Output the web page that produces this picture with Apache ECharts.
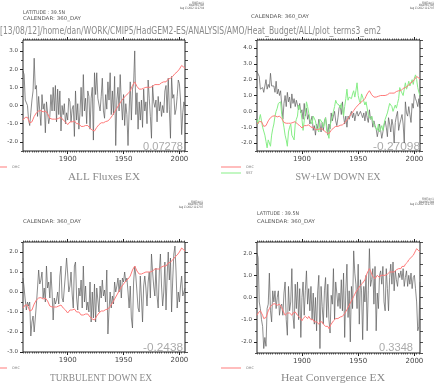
<!DOCTYPE html>
<html><head><meta charset="utf-8">
<script src="https://cdn.jsdelivr.net/npm/echarts@6/dist/echarts.min.js"></script>
<style>html,body{margin:0;padding:0;background:#fff}#c{width:436px;height:384px}</style>
</head><body><div id="c"></div>
<script>
// ---------------- DATA (annual, 1860-2005) ----------------
const startYear = 1860;
const ohc = [
-0.8,-0.7,-0.65,-0.6,-0.65,-0.8,-0.95,-1.0,-0.9,-0.75,
-0.6,-0.5,-0.4,-0.35,-0.3,-0.3,-0.28,-0.3,-0.35,-0.3,
-0.3,-0.35,-0.45,-0.5,-0.7,-0.8,-0.75,-0.7,-0.75,-0.7,
-0.75,-0.8,-0.7,-0.72,-0.65,-0.7,-0.8,-0.85,-0.9,-0.95,
-1.05,-0.95,-0.9,-0.85,-0.9,-0.95,-0.85,-0.9,-1.0,-1.05,
-1.0,-1.1,-1.15,-1.1,-1.15,-1.2,-1.1,-1.15,-1.1,-1.2,
-1.25,-1.3,-1.35,-1.3,-1.4,-1.35,-1.2,-1.15,-1.05,-1.0,
-0.95,-0.9,-0.95,-0.9,-0.88,-0.85,-0.85,-0.8,-0.72,-0.65,
-0.55,-0.45,-0.35,-0.25,-0.15,-0.05,0.05,0.15,0.25,0.3,
0.4,0.45,0.55,0.6,0.65,0.7,0.8,0.95,1.1,1.2,
1.3,1.2,1.05,0.95,0.9,0.85,0.9,1.0,0.95,0.9,
1.0,1.05,1.0,1.05,1.0,0.95,1.05,1.1,1.15,1.1,
1.15,1.2,1.15,1.2,1.25,1.2,1.3,1.35,1.3,1.4,
1.45,1.4,1.5,1.55,1.6,1.7,1.75,1.8,1.85,1.9,
2.0,2.1,2.2,2.15,2.1,2.05];
const allFluxes = [
1.9,1.7,0.3,0.2,0.0,-0.8,-1.1,-0.4,0.3,0.8,
2.6,0.9,1.1,-0.6,0.5,-0.3,-1.1,0.6,-0.2,0.1,
-1.5,0.2,0.3,-1.0,-0.6,0.6,-0.3,1.0,-0.3,1.1,
-0.9,0.9,-0.5,0.8,-1.4,0.0,-0.5,0.1,-1.0,-0.4,
-0.8,0.4,0.2,-0.9,-0.2,0.0,-1.7,0.8,-0.8,0.1,
-1.3,-0.4,1.0,-0.6,1.7,-0.3,0.4,-1.0,0.8,0.5,
-1.3,0.4,1.0,-1.9,1.8,0.6,1.8,0.4,0.3,-0.3,
0.5,1.5,-0.3,-0.7,0.6,-0.2,1.3,0.3,1.8,-0.5,
0.8,-0.5,1.6,-2.2,0.3,1.0,-0.3,1.7,0.2,-0.8,
0.6,-1.1,0.1,-0.5,-2.2,-0.3,1.3,-0.8,0.9,1.2,
3.0,-0.5,0.7,-1.3,0.2,-0.8,0.3,-1.2,0.9,-0.3,
0.2,-1.0,1.4,0.4,-0.6,-1.8,1.1,0.2,-0.1,0.3,
-0.9,0.5,-0.3,0.2,-0.6,0.0,-0.4,0.8,1.1,-0.4,
1.5,-0.2,-1.8,1.6,0.4,0.6,-0.5,-0.2,0.5,1.4,
1.2,0.3,-1.6,-0.4,0.2,0.0];
const swlwDown = [
2.5,2.6,2.2,1.4,1.3,1.5,1.2,1.6,2.0,1.4,
1.7,1.5,2.4,1.6,1.5,1.6,1.2,1.9,1.1,1.4,
1.0,1.3,1.2,-0.5,0.5,1.0,0.3,1.2,0.6,0.9,
0.2,1.1,0.5,0.8,0.3,0.7,0.4,0.1,0.5,-0.1,
0.1,-0.5,0.5,-0.3,0.2,-0.5,-0.2,-0.8,-0.6,-0.3,
-1.2,-0.9,-1.5,-0.8,-1.1,-0.5,-0.8,-1.3,-0.7,-1.2,
-0.6,-0.4,-0.9,-1.5,-0.8,-1.1,-0.1,-0.6,-0.3,0.0,
-0.6,-0.9,-0.4,0.2,0.4,-0.2,0.6,-0.3,-0.8,-0.3,
-1.0,-0.3,-0.5,-0.2,0.0,-0.4,-0.1,-0.6,-0.2,0.0,
-0.3,-0.4,0.0,-0.2,-0.4,-0.1,-0.6,0.0,-0.4,-0.7,
0.1,-0.5,-0.3,-1.0,-0.6,-0.9,-1.1,-1.6,-1.2,-0.8,
-1.2,-1.7,-1.3,-0.9,-0.6,-1.0,-1.6,-0.4,-0.8,-1.3,
-0.5,-0.9,-2.0,-0.7,-0.3,0.0,-1.2,-0.8,-0.5,-0.2,
-0.8,-2.0,0.6,-0.1,-0.3,0.3,-0.2,-0.7,0.5,0.2,
1.1,0.8,0.6,0.3,0.8,0.2];
const sst = [
-0.5,-0.8,-0.8,-0.2,-0.6,-1.0,-1.0,-1.5,-1.9,-2.3,
-1.8,-2.0,-2.2,-1.5,-1.1,-0.8,-0.3,0.0,0.2,0.5,
0.4,0.6,-0.2,-0.6,-1.0,-1.5,-1.8,-2.2,-1.3,-1.0,
-0.8,-1.5,-1.6,-1.8,-0.8,-0.5,-0.3,0.4,0.5,0.0,
-0.5,-1.2,-0.6,-0.2,0.6,0.3,0.2,-0.5,-0.6,-0.8,
-0.3,-0.4,-0.6,-1.0,-1.1,-1.3,-0.5,-0.6,-0.7,-1.0,
-0.7,-0.4,-1.2,-1.4,-1.7,-0.9,-0.6,-0.3,0.0,0.3,
0.7,0.5,0.6,0.4,0.2,0.5,0.1,-0.3,0.3,0.8,
1.4,0.7,0.9,1.0,0.8,1.1,1.3,0.9,1.3,1.8,
1.0,0.7,0.5,1.1,0.9,0.8,0.4,0.6,0.5,-0.2,
-0.3,-0.5,-0.3,-0.6,-0.8,-1.0,-1.1,-1.2,-0.8,-1.3,
-1.1,-0.9,-1.2,-0.8,-0.5,-0.3,-0.1,0.2,0.5,0.4,
0.3,0.0,0.2,0.4,0.2,0.5,0.8,1.5,1.3,1.2,
1.0,1.4,1.8,1.4,1.6,1.9,1.6,1.8,2.0,1.7,
2.1,2.3,2.0,1.5,1.2,1.0];
const turbulentDown = [
0.7,0.2,-0.4,-0.9,-0.5,-0.7,-0.5,-2.2,-1.5,-1.2,
-2.0,-1.9,-0.6,0.2,1.1,0.4,0.6,1.0,-0.3,0.2,
-0.5,1.3,0.2,0.5,-0.3,1.0,0.0,-1.4,-0.3,-0.6,
-0.4,0.0,-0.6,0.8,1.3,-0.3,-0.5,0.2,0.9,1.7,
0.9,0.0,0.3,1.0,-0.1,-0.8,1.3,1.5,-0.3,-0.9,
0.2,-0.2,0.6,-0.8,1.3,-0.5,0.3,-0.9,-0.5,-1.0,
0.5,-1.5,0.0,-1.3,0.4,-1.5,0.2,0.3,-1.0,0.3,
-0.3,0.6,-0.2,0.1,-0.5,1.1,-2.1,-0.9,0.0,-0.8,
-0.2,-0.6,0.5,0.0,0.3,0.7,0.0,0.6,-0.3,0.7,
0.5,1.0,0.5,0.7,0.0,-0.8,0.3,-1.3,-1.8,0.5,
1.3,0.8,0.0,-0.8,-1.0,0.8,-0.3,-1.5,0.3,0.8,
0.2,-0.7,0.5,1.0,-0.3,1.9,1.0,0.3,-0.2,1.2,
-0.2,-0.8,1.0,1.9,0.3,-0.7,0.0,1.5,-0.9,0.8,
2.0,0.6,1.7,-1.0,0.6,1.9,2.3,1.0,-0.8,0.0,
-0.5,0.3,0.8,-0.2,-0.3,0.2];
const heatConvergence = [
2.0,1.8,-0.2,-0.5,-1.0,-1.3,-2.3,-1.8,-2.2,-0.5,
-0.3,1.1,-0.6,-1.1,0.3,-0.2,0.3,-0.5,0.0,0.3,
-0.8,-0.4,-0.3,-0.8,0.2,0.7,-1.0,-1.7,0.5,-0.6,
-0.2,1.3,-0.8,-1.4,0.6,-0.5,0.7,-1.0,0.4,-1.8,
0.0,0.7,-0.8,0.3,1.2,-0.3,0.4,-0.6,0.5,-1.0,
0.2,-1.2,0.0,-1.5,0.3,1.0,-2.3,0.5,-0.4,-1.2,
0.3,0.9,-0.9,0.6,-1.0,-1.6,0.1,-0.3,1.3,-1.0,
0.7,0.2,-0.4,0.2,-0.5,0.8,-0.6,1.1,-1.8,0.3,
1.5,-0.9,0.3,-2.0,0.5,-0.5,2.1,1.1,0.6,-0.5,
1.5,-1.2,0.8,0.3,-1.9,0.5,-0.2,1.0,-1.5,0.3,
2.2,0.5,0.8,1.3,-0.3,1.4,-1.5,0.2,-0.5,1.0,
1.2,0.6,1.4,-0.2,-0.6,1.3,0.4,-0.6,0.9,1.5,
0.6,1.6,0.3,1.2,0.8,0.5,1.1,0.9,1.2,0.8,
1.3,0.5,0.9,1.2,0.5,1.0,0.6,1.1,0.4,0.9,
1.0,0.4,-0.2,-1.5,-1.3,0.7];
const xTickYears = [1900, 1950, 2000];
const yTicksP1 = [-2, -1, 0, 1, 2, 3];
const yTicksP2 = [-2, -1, 0, 1, 2, 3, 4];
const yTicksP3 = [-3, -2, -1, 0, 1, 2];
const yTicksP4 = [-2, -1, 0, 1, 2];
const titles = ['ALL Fluxes EX', 'SW+LW DOWN EX', 'TURBULENT DOWN EX', 'Heat Convergence EX'];
const correlations = ['0.07278', '-0.27098', '-0.2438', '0.3348'];
const pathText = '[13/08/12]/home/dan/WORK/CMIP5/HadGEM2-ES/ANALYSIS/AMO/Heat_Budget/ALL/plot_terms3_em2';
const latText = 'LATITUDE : 39.5N';
const calText = 'CALENDAR: 360_DAY';
const stampLines = [['FERRET Ver. 6.1', 'NOAA/PMEL TMAP', 'Aug 13 2012 11:27:04'],
                    ['FERRET Ver. 6.1', 'NOAA/PMEL TMAP', 'Aug 13 2012 11:27:07'],
                    ['FERRET Ver. 6.1', 'NOAA/PMEL TMAP', 'Aug 13 2012 11:27:07'],
                    ['FERRET Ver. 6.1', 'NOAA/PMEL TMAP', 'Aug 13 2012 11:27:07']];

// ---------------- STYLE / LAYOUT ----------------
const BLACK = '#5a5a5a', RED = '#ff7a7a', GREEN = '#86ee86';
const years = ohc.map((_, k) => startYear + k);
const xMin = 1860, xMax = 2005;
const pairs = a => years.map((y, k) => [y, a[k]]);
const minorYears = [];
for (let y = 1860; y <= 2004; y += 2) minorYears.push(y);
const halfSteps = (lo, hi) => { const r = []; for (let v = Math.ceil(lo * 2) / 2; v <= hi + 1e-9; v += 0.5) r.push(+v.toFixed(1)); return r; };

const panels = [
  {box: [23, 40, 162, 111], y: [-2.5, 3.6], ticks: yTicksP1,
   lines: [['ALL Fluxes', allFluxes, BLACK], ['OHC', ohc, RED]]},
  {box: [257, 40, 163, 111], y: [-2.5, 4.5], ticks: yTicksP2,
   lines: [['SW+LW DOWN', swlwDown, BLACK], ['SST', sst, GREEN], ['OHC', ohc, RED]]},
  {box: [23, 242, 162, 110], y: [-3, 2.5], ticks: yTicksP3,
   lines: [['TURBULENT DOWN', turbulentDown, BLACK], ['OHC', ohc, RED]]},
  {box: [257, 242, 163, 111], y: [-2.5, 2.5], ticks: yTicksP4,
   lines: [['Heat Convergence', heatConvergence, BLACK], ['OHC', ohc, RED]]}
];

const grid = [], xAxis = [], yAxis = [], series = [];
const AX = '#222';
const noLine = {show: false, onZero: false};
panels.forEach((p, i) => {
  const [l, t, w, h] = p.box;
  grid.push({left: l, top: t, width: w, height: h, show: true, borderColor: AX, borderWidth: 1, backgroundColor: 'transparent', containLabel: false});
  const xBase = {gridIndex: i, type: 'value', min: xMin, max: xMax, axisLine: noLine, splitLine: {show: false}};
  xAxis.push(Object.assign({}, xBase, {position: 'bottom',
    axisTick: {show: true, customValues: xTickYears, length: 3, lineStyle: {color: AX, width: 1}},
    axisLabel: {show: true, customValues: xTickYears, fontSize: 7, color: '#444', margin: 5, fontFamily: 'DejaVu Sans',
      formatter: v => String(Math.round(v))}}));
  xAxis.push(Object.assign({}, xBase, {position: 'bottom',
    axisTick: {show: true, customValues: minorYears, length: 1.5, lineStyle: {color: AX, width: 0.7}}, axisLabel: {show: false}}));
  xAxis.push(Object.assign({}, xBase, {position: 'top',
    axisTick: {show: true, customValues: xTickYears, length: 3, lineStyle: {color: AX, width: 1}}, axisLabel: {show: false}}));
  xAxis.push(Object.assign({}, xBase, {position: 'top',
    axisTick: {show: true, customValues: minorYears, length: 1.5, lineStyle: {color: AX, width: 0.7}}, axisLabel: {show: false}}));
  const yBase = {gridIndex: i, type: 'value', min: p.y[0], max: p.y[1], axisLine: noLine, splitLine: {show: false}};
  yAxis.push(Object.assign({}, yBase, {position: 'left',
    axisTick: {show: true, customValues: p.ticks, length: 3, lineStyle: {color: AX, width: 1}},
    axisLabel: {show: true, customValues: p.ticks, fontSize: 5.5, color: '#444', margin: 5, fontFamily: 'DejaVu Sans',
      formatter: v => v.toFixed(1)}}));
  yAxis.push(Object.assign({}, yBase, {position: 'left',
    axisTick: {show: true, customValues: halfSteps(p.y[0], p.y[1]), length: 2, lineStyle: {color: AX, width: 0.8}}, axisLabel: {show: false}}));
  yAxis.push(Object.assign({}, yBase, {position: 'right',
    axisTick: {show: true, customValues: halfSteps(p.y[0], p.y[1]), length: 3, lineStyle: {color: AX, width: 0.8}}, axisLabel: {show: false}}));
  p.lines.forEach(([name, arr, color]) => {
    series.push({name, type: 'line', xAxisIndex: i * 4, yAxisIndex: i * 3, data: pairs(arr),
      showSymbol: false, symbol: 'none', animation: false, silent: true,
      lineStyle: {color, width: color === BLACK ? 0.7 : 1}, itemStyle: {color}});
  });
});

// text helpers
const mctx = document.createElement('canvas').getContext('2d');
function fitText(text, font, x, y, targetW, fill, align) {
  mctx.font = font;
  const w = mctx.measureText(text).width || 1;
  const sx = targetW / w;
  let left = x;
  if (align === 'center') left = x - targetW / 2;
  if (align === 'right') left = x - targetW;
  return {type: 'text', x: left, y: y, scaleX: sx, scaleY: 1, silent: true,
    style: {text: text, font: font, fill: fill, align: 'left', verticalAlign: 'middle'}};
}
const SANS = '"DejaVu Sans"';
const graphics = [];
graphics.push(fitText(pathText, '10px ' + SANS, 0, 31, 381, '#8a8a8a', 'left'));
graphics.push(fitText(latText, '5px ' + SANS, 23, 12.5, 42, '#555', 'left'));
graphics.push(fitText(calText, '5px ' + SANS, 23, 18.5, 58, '#555', 'left'));
graphics.push(fitText(calText, '5px ' + SANS, 251, 17, 58, '#555', 'left'));
graphics.push(fitText(calText, '5px ' + SANS, 23, 221.5, 58, '#555', 'left'));
graphics.push(fitText(latText, '5px ' + SANS, 257, 214, 42, '#555', 'left'));
graphics.push(fitText(calText, '5px ' + SANS, 257, 221.5, 58, '#555', 'left'));
const stampPos = [[204, 3], [434, 3], [203, 202], [434, 199.5]];
stampPos.forEach(([rx, ty], i) => {
  stampLines[i].forEach((s, k) => {
    const ws = [12, 15, 24][k];
    graphics.push(fitText(s, '3px ' + SANS, rx, ty + k * 2.6, ws, '#444', 'right'));
  });
});
const titlePos = [[104, 177, 72], [338, 177, 85], [101, 378, 102], [333, 378, 104]];
titles.forEach((t, i) => {
  const [cx, cy, w] = titlePos[i];
  graphics.push(fitText(t, '10px "Liberation Serif"', cx, cy, w, '#8a8a8a', 'center'));
});
const corrPos = [[183, 147, 40], [420, 147, 47], [183, 348, 40], [413, 348, 34]];
correlations.forEach((t, i) => {
  const [rx, cy, w] = corrPos[i];
  graphics.push(fitText(t, '10px "Liberation Sans"', rx, cy, w, '#ababab', 'right'));
});

const legendBase = {orient: 'vertical', itemWidth: 20, itemHeight: 1, itemGap: 2, padding: 0,
  selectedMode: false, icon: 'rect', textStyle: {fontSize: 3.5, color: '#777', fontFamily: SANS, padding: [0, 0, 0, 0]}};
const legend = [
  Object.assign({}, legendBase, {data: ['OHC'], left: -13, top: 165}),
  Object.assign({}, legendBase, {data: ['OHC', 'SST'], left: 221, top: 165}),
  Object.assign({}, legendBase, {data: ['OHC'], left: -13, top: 366}),
  Object.assign({}, legendBase, {data: ['OHC'], left: 221, top: 366})
];

const chart = echarts.init(document.getElementById('c'), null, {renderer: 'canvas', width: 436, height: 384});
chart.setOption({animation: false, backgroundColor: '#fff', grid, xAxis, yAxis, series, legend, graphic: graphics});
</script></body></html>
